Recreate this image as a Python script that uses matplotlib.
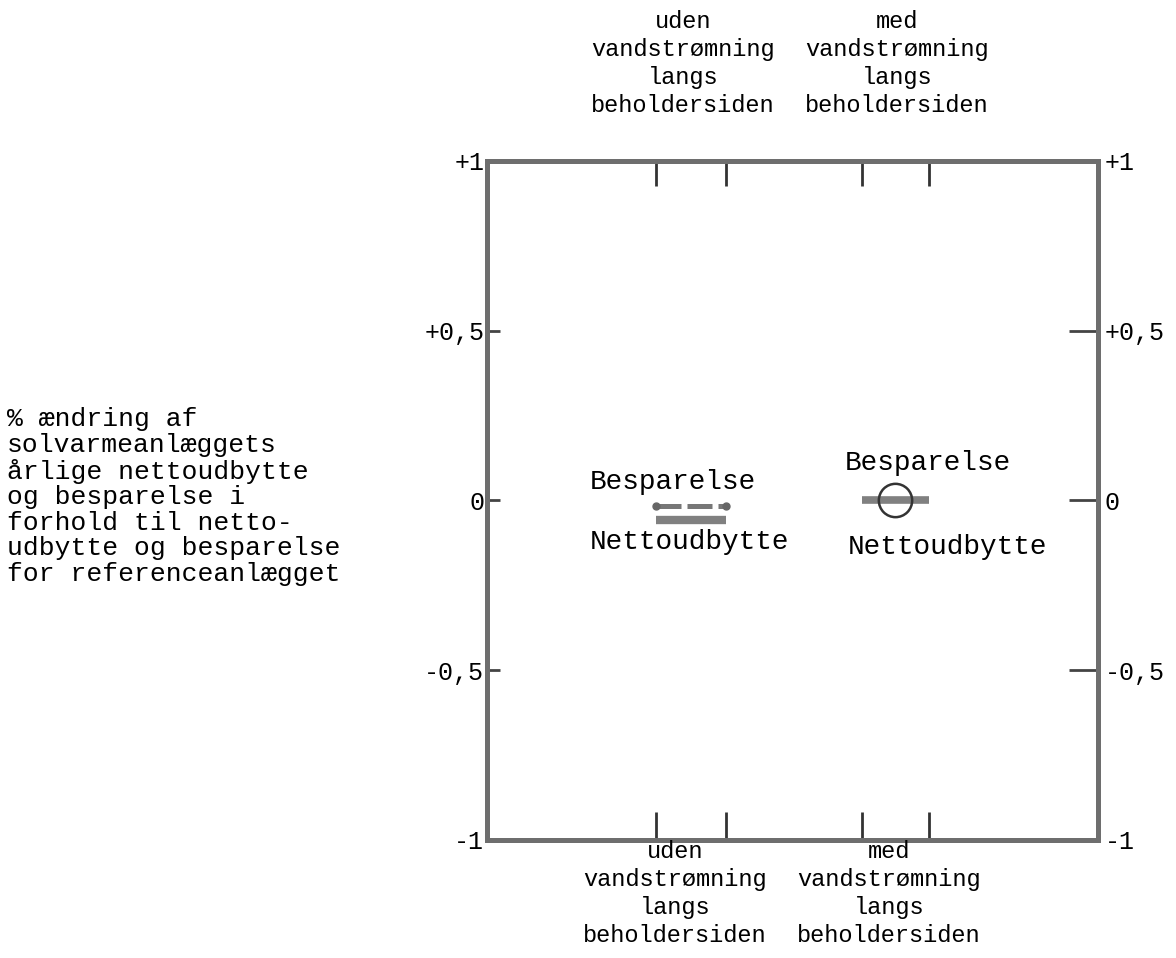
import matplotlib
matplotlib.use("Agg")
import matplotlib.pyplot as plt

# --- data -------------------------------------------------------------
groups = ["uden\nvandstrømning\nlangs\nbeholdersiden",
          "med\nvandstrømning\nlangs\nbeholdersiden"]
group_x0 = [0.277, 0.613]
group_x1 = [0.391, 0.723]
besparelse = [-0.016, 0.0]
nettoudbytte = [-0.057, 0.0]
y_ticks = [-1, -0.5, 0, 0.5, 1]
y_tick_labels = ["-1", "-0,5", "0", "+0,5", "+1"]
ylabel = ("% ændring af\nsolvarmeanlæggets\nårlige nettoudbytte\n"
          "og besparelse i\nforhold til netto-\nudbytte og besparelse\n"
          "for referenceanlægget")

FONT = "Liberation Mono"
plt.rcParams["font.family"] = [FONT, "DejaVu Sans Mono"]

fig = plt.figure(figsize=(11.76, 9.58), dpi=100)
ax = fig.add_axes([0.4141, 0.1232, 0.5196, 0.7088])
ax.set_xlim(0, 1)
ax.set_ylim(-1, 1)

frame_col = "#6e6e6e"
for sp in ax.spines.values():
    sp.set_linewidth(3.6)
    sp.set_color(frame_col)

# left y ticks (short, inward)
ax.set_yticks(y_ticks)
ax.set_yticklabels(y_tick_labels, fontsize=18)
ax.tick_params(axis="y", direction="in", length=9, width=2, color="#444444", pad=2)

# right y ticks (longer, inward)
secy = ax.secondary_yaxis("right")
secy.set_yticks(y_ticks)
secy.set_yticklabels(y_tick_labels, fontsize=18)
secy.tick_params(direction="in", length=21, width=2, color="#444444", pad=5)
secy.spines["right"].set_visible(False)

# x ticks at the ends of each group range, top and bottom
xt = [v for pair in zip(group_x0, group_x1) for v in pair]
ax.set_xticks(xt)
ax.set_xticklabels([])
ax.tick_params(axis="x", direction="in", length=20, width=2, color="#333333")
secx = ax.secondary_xaxis("top")
secx.set_xticks(xt)
secx.set_xticklabels([])
secx.tick_params(direction="in", length=18, width=2, color="#333333")
secx.spines["top"].set_visible(False)

# group labels
top_x = [0.321, 0.671]
bot_x = [0.308, 0.658]
for i, g in enumerate(groups):
    ax.text(top_x[i], 1.1436, g, transform=ax.transAxes, ha="center",
            va="center", fontsize=17, linespacing=1.27)
    ax.text(bot_x[i], -0.0788, g, transform=ax.transAxes, ha="center",
            va="center", fontsize=17, linespacing=1.27)

# group 1: dashed line for besparelse, solid bar for nettoudbytte
ax.plot([group_x0[0], group_x1[0]], [besparelse[0]] * 2, color="#777777",
        lw=3.6, ls=(0, (5, 1.2)), solid_capstyle="butt")
ax.plot([group_x0[0], group_x1[0]], [besparelse[0]] * 2, ls="none",
        marker="o", ms=5, color="#666666")
ax.plot([group_x0[0], group_x1[0]], [nettoudbytte[0]] * 2, color="#808080",
        lw=6, solid_capstyle="butt")

# group 2: solid bar for nettoudbytte, circle for besparelse
ax.plot([group_x0[1], group_x1[1]], [nettoudbytte[1]] * 2, color="#808080",
        lw=5.5, solid_capstyle="butt")
ax.plot([(group_x0[1] + group_x1[1]) / 2], [besparelse[1]], marker="o",
        ms=24, mfc="none", mec="#333333", mew=1.8)

ax.text(0.304, 0.054, "Besparelse", ha="center", va="center", fontsize=20)
ax.text(0.332, -0.122, "Nettoudbytte", ha="center", va="center", fontsize=20)
ax.text(0.722, 0.110, "Besparelse", ha="center", va="center", fontsize=20)
ax.text(0.754, -0.137, "Nettoudbytte", ha="center", va="center", fontsize=20)

fig.text(0.006, 1 - 496.5 / 958, ylabel, ha="left", va="center",
         fontsize=19, linespacing=1.08)

fig.savefig("out.png", dpi=100)
